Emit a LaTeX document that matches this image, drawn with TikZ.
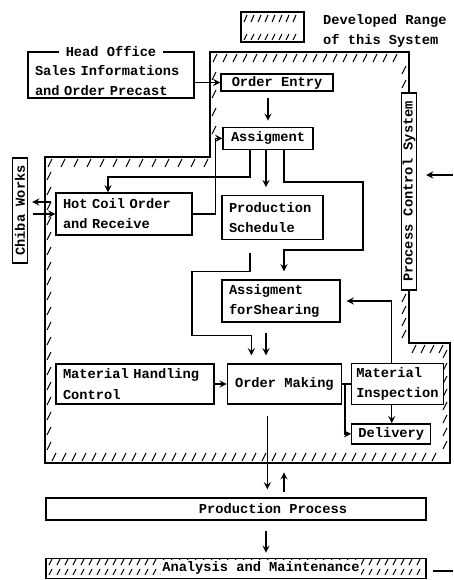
\documentclass[tikz,border=0pt]{standalone}
\usepackage{fontspec}
\setmonofont{Liberation Mono}[WordSpace={1,0,0}]
\usepackage{graphicx}
\usetikzlibrary{arrows, positioning}
\newcommand{\sysfont}{\ttfamily\bfseries\fontsize{7.8}{11.5}\selectfont}

\begin{document}
\begin{tikzpicture}[
    x=0.02cm, y=-0.02cm,
    every node/.style={font=\sysfont},
    box/.style={draw, fill=white, line width=0.8pt, rectangle, inner sep=0pt, align=center},
    lbox/.style={box, align=left, inner xsep=0.14cm},
    vbox/.style={box, minimum width=0.3cm},
    region/.style={line width=0.9pt},
    hatch/.style={line width=0.6pt},
    arrow/.style={line width=0.8pt, ->, >=stealth},
    wire/.style={line width=0.8pt}
]
\useasboundingbox (0,0) rectangle (453,580);

% legend
\node[box, minimum width=1.26cm, minimum height=0.6cm] (legend) at (272.5,27) {};
\foreach \x in {244,251,...,298} \draw[hatch] (\x,22) -- ++(3,-7);
\foreach \x in {244,251,...,298} \draw[hatch] (\x,40) -- ++(3,-6);
\node[anchor=west, align=left] (legendtext) at (317,31) {Developed Range\\of this System};

% developed range of the system
\draw[region] (210,52) -- (409,52) -- (409,343) -- (450,343) -- (450,463) -- (45,463) -- (45,157) -- (210,157) -- cycle;
\foreach \x in {213,223,...,400} \draw[hatch] (\x,62) -- ++(4,-8);
\foreach \y in {80,98,116,134} \draw[hatch] (212,\y) -- ++(4,-8);
\foreach \y in {74,88} \draw[hatch] (402,\y) -- ++(4,-8);
\foreach \y in {302,314,...,340} \draw[hatch] (402,\y) -- ++(4,-8);
\foreach \x in {48,61,...,204} \draw[hatch] (\x,167) -- ++(4,-8);
\foreach \y in {180,195,...,458} \draw[hatch] (47,\y) -- ++(4,-8);
\foreach \x in {52,62,...,440} \draw[hatch] (\x,461) -- ++(4,-8);
\foreach \x in {412,421,...,444} \draw[hatch] (\x,353) -- ++(4,-8);
\foreach \y in {358,371,...,450} \draw[hatch] (443,\y) -- ++(4,-8);

% boxes
\node[lbox, text width=3.04cm, minimum height=0.92cm] (headoff) at (111,75) {\rule{0pt}{12pt}Sales Informations\\and Order Precast};
\node[fill=white, inner xsep=4pt, inner ysep=1pt] (headtitle) at (headoff.north) {Head Office};
\node[box, minimum width=2.24cm, minimum height=0.34cm] (oentry) at (277,82.5) {Order Entry};
\node[box, minimum width=1.8cm, minimum height=0.44cm, below=0.7cm of oentry, xshift=-0.18cm] (assign) {Assigment};
\node[lbox, text width=2.44cm, minimum height=0.84cm] (hotcoil) at (124,214) {Hot Coil Order\\and Receive};
\node[lbox, text width=1.74cm, minimum height=0.88cm, below=0.9cm of assign, xshift=0.09cm] (prodsched) {Production\\Schedule};
\node[lbox, text width=2.08cm, minimum height=0.84cm] (shearing) at (281,301) {Assigment\\forShearing};
\node[lbox, text width=2.88cm, minimum height=0.8cm] (mhc) at (135,384) {Material Handling\\Control};
\node[box, minimum width=2.28cm, minimum height=0.8cm, right=0.24cm of mhc] (omaking) {Order Making};
\node[lbox, inner xsep=0.09cm, text width=1.66cm, minimum height=0.82cm, right=0.18cm of omaking] (minsp) {Material\\Inspection};
\node[box, minimum width=1.58cm, minimum height=0.4cm, below=0.36cm of minsp, xshift=-0.13cm] (delivery) {Delivery};
\node[vbox, minimum height=2.1cm] (chiba) at (20,210.5) {\rotatebox{90}{Chiba Works}};
\node[vbox, minimum height=3.94cm] (pcs) at (409,191.5) {\rotatebox{90}{Process Control System}};
\node[box, minimum width=7.6cm, minimum height=0.44cm] (prodproc) at (236,509) {};
\node (prodtext) at ([xshift=0.74cm]prodproc.center) {Production Process};
\node[box, minimum width=7.6cm, minimum height=0.4cm, below=0.74cm of prodproc] (analysis) {};
\foreach \x in {49,57,...,418} \draw[hatch] (\x,565) -- ++(3,-6);
\foreach \x in {49,57,...,418} \draw[hatch] (\x,575) -- ++(3,-6);
\node[fill=white, inner sep=1pt] (analysistext) at ([xshift=0.5cm]analysis.center) {Analysis and Maintenance};

% connectors
\draw[arrow] (headoff.east |- oentry.west) -- (oentry.west);
\draw[arrow, shorten <=1.2mm, shorten >=1.2mm] (assign.north |- oentry.south) -- (assign.north);
\draw[arrow] (hotcoil.east) -- ++(23,0) |- (assign.west);
\draw[arrow] ([xshift=-0.36cm]assign.south) -- ++(0,27) -| ([xshift=-0.32cm]hotcoil.north);
\draw[arrow, shorten >=1.6mm] ([xshift=-0.04cm]assign.south) -- ([xshift=-0.04cm]assign.south |- prodsched.north);
\draw[arrow, shorten >=1.6mm] ([xshift=0.32cm]assign.south) -- ++(0,32) -- ++(79,0) -- ++(0,68) -| ([xshift=0.06cm]shearing.north);
\draw[arrow, shorten <=2.6mm, shorten >=1.6mm] ([xshift=-0.45cm]prodsched.south) -- ++(0,31) -- ++(-58,0) -- ++(0,64) -| ([xshift=-0.66cm]omaking.north);
\draw[arrow, shorten <=2mm, shorten >=1.6mm] ([xshift=-0.3cm]shearing.south) -- ([xshift=-0.3cm]shearing.south |- omaking.north);
\draw[arrow, shorten >=1.2mm] ([xshift=-0.12cm]minsp.north) |- (shearing.east);
\draw[arrow] (mhc.east) -- (omaking.west);
\draw[wire] (omaking.east) -- (minsp.west);
\draw[arrow] (omaking.east) ++(3,0) |- (delivery.west);
\draw[arrow] ([xshift=-0.12cm]minsp.south) -- ([xshift=-0.12cm]minsp.south |- delivery.north);
\draw[arrow, shorten <=2.2mm, shorten >=1.6mm] ([xshift=-0.34cm]omaking.south) -- ([xshift=-0.34cm]omaking.south |- prodproc.north);
\draw[arrow, shorten <=1mm] ([xshift=0.96cm]prodproc.north) -- ++(0,-25);
\draw[arrow, shorten <=2mm, shorten >=1mm] ([xshift=0.6cm]prodproc.south) -- ([xshift=0.6cm]prodproc.south |- analysis.north);
\draw[arrow, shorten <=0.8mm, shorten >=0.8mm] ([yshift=0.24cm]hotcoil.west) -- ([yshift=0.24cm]hotcoil.west -| chiba.east);
\draw[arrow, shorten <=1mm] (hotcoil.west -| chiba.east) -- (hotcoil.west);
\coordinate (pcsin) at (453,175);
\draw[arrow, shorten >=1.8mm] (pcsin) -- (pcsin -| pcs.east);
\coordinate (anaout) at (453,571);
\draw[wire, shorten <=1.2mm] (analysis.east |- anaout) -- (anaout);

\end{tikzpicture}
\end{document}
